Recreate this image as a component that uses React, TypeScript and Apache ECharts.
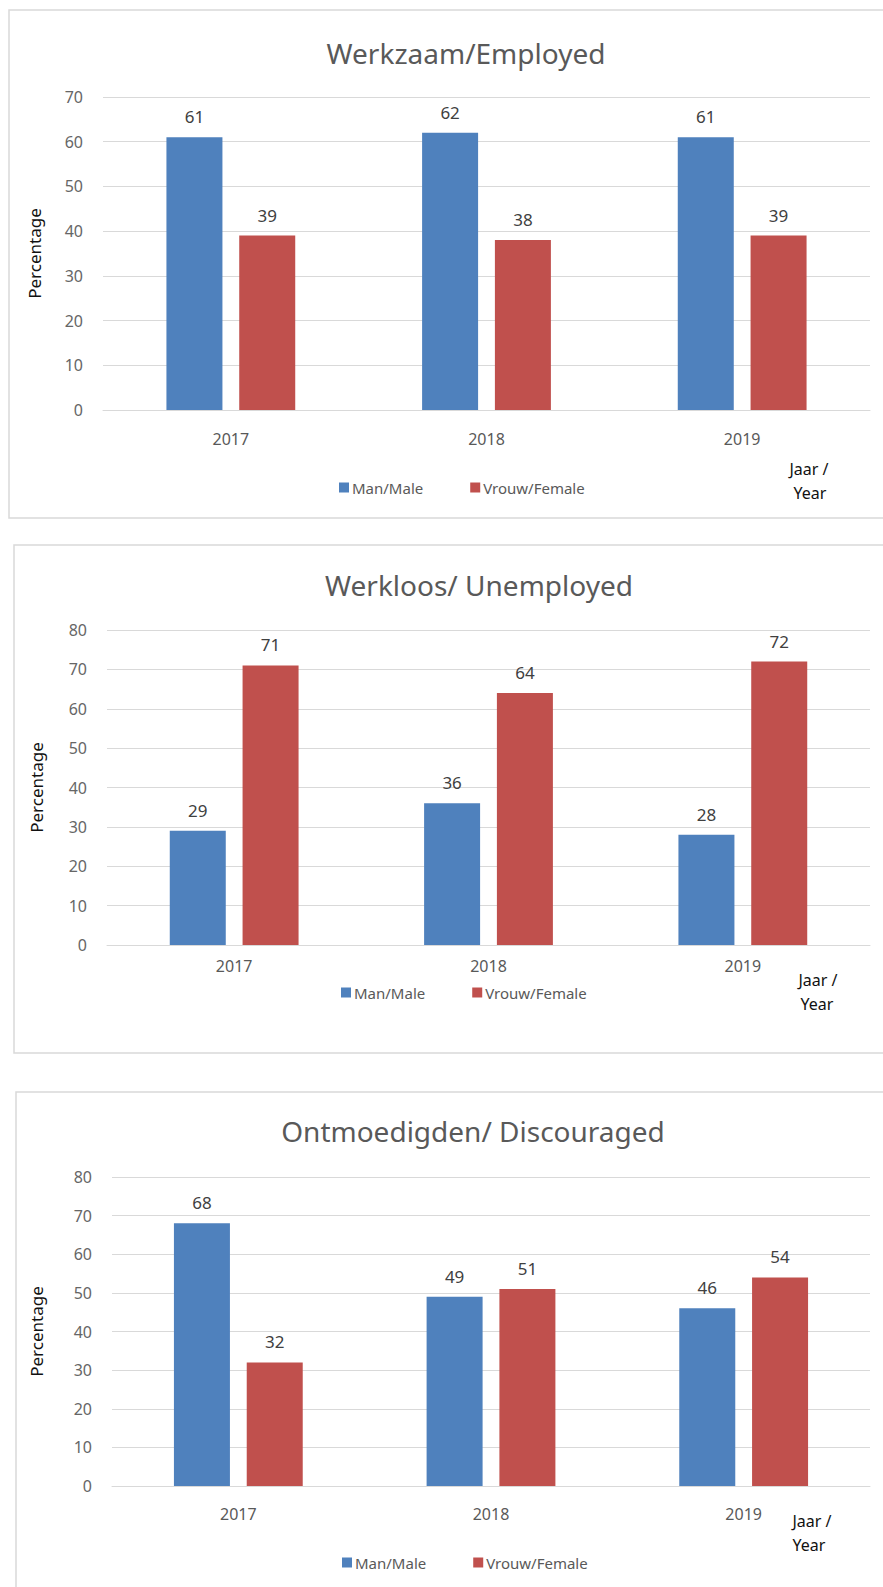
import React, { useEffect, useRef } from 'react';
import * as echarts from 'echarts';

// ---- Data ----
const years = ['2017', '2018', '2019'];
const seriesNames = ['Man/Male', 'Vrouw/Female'];
const chartTitles = ['Werkzaam/Employed', 'Werkloos/ Unemployed', 'Ontmoedigden/ Discouraged'];
const employedMale = [61, 62, 61];
const employedFemale = [39, 38, 39];
const unemployedMale = [29, 36, 28];
const unemployedFemale = [71, 64, 72];
const discouragedMale = [68, 49, 46];
const discouragedFemale = [32, 51, 54];
const yMaxes = [70, 80, 80];
const yInterval = 10;
const yAxisName = 'Percentage';
const xAxisNameLines = ['Jaar /', 'Year'];

const maleSets = [employedMale, unemployedMale, discouragedMale];
const femaleSets = [employedFemale, unemployedFemale, discouragedFemale];

// ---- Layout / style ----
const FONT = '"Noto Sans", "Open Sans", sans-serif';
const BLUE = '#4F81BD';
const RED = '#C0504D';
const GRID_COLOR = '#d9d9d9';

const layouts = [
  { panel: { x: 9, y: 10, h: 508 }, grid: { left: 103, top: 97, width: 767, height: 313 }, titleX: 466, titleY: 53, legendLeft: 334, legendY: 484, catMargin: 21, nameGap: 60, jaar: [809, 469], year: [810, 493] },
  { panel: { x: 14, y: 545, h: 508 }, grid: { left: 107, top: 630, width: 763, height: 315 }, titleX: 479, titleY: 585, legendLeft: 336, legendY: 989, catMargin: 13, nameGap: 62, jaar: [818, 980], year: [817, 1004] },
  { panel: { x: 16, y: 1092, h: 600 }, grid: { left: 112, top: 1177, width: 758, height: 309 }, titleX: 473, titleY: 1131, legendLeft: 337, legendY: 1559, catMargin: 20, nameGap: 67, jaar: [812, 1521], year: [809, 1545] },
];

export default function App() {
  const ref = useRef<HTMLDivElement>(null);

  useEffect(() => {
    if (!ref.current) return;
    const chart = echarts.init(ref.current, undefined, { renderer: 'svg' });

    const grids: any[] = [];
    const xAxes: any[] = [];
    const yAxes: any[] = [];
    const series: any[] = [];
    const legends: any[] = [];
    const graphics: any[] = [];

    layouts.forEach((L, i) => {
      grids.push({ ...L.grid, containLabel: false });
      xAxes.push({
        type: 'category',
        gridIndex: i,
        data: years,
        axisLine: { show: true, lineStyle: { color: GRID_COLOR, width: 1 } },
        axisTick: { show: false },
        axisLabel: { margin: L.catMargin, fontSize: 16, color: '#595959', fontFamily: FONT },
      });
      yAxes.push({
        type: 'value',
        gridIndex: i,
        min: 0,
        max: yMaxes[i],
        interval: yInterval,
        axisLine: { show: false },
        axisTick: { show: false },
        splitLine: { show: true, lineStyle: { color: GRID_COLOR, width: 1 } },
        axisLabel: { margin: 20, fontSize: 16, color: '#666666', fontFamily: FONT },
        name: yAxisName,
        nameLocation: 'middle',
        nameGap: L.nameGap,
        nameRotate: 90,
        nameTextStyle: { fontSize: 17, color: '#111111', fontFamily: FONT },
      });
      const label = {
        show: true,
        position: 'top',
        distance: 12,
        fontSize: 17,
        color: '#404040',
        fontFamily: FONT,
      };
      series.push({
        type: 'bar',
        name: seriesNames[0],
        xAxisIndex: i,
        yAxisIndex: i,
        data: maleSets[i],
        barWidth: 56,
        barGap: '30%',
        itemStyle: { color: BLUE },
        label,
      });
      series.push({
        type: 'bar',
        name: seriesNames[1],
        xAxisIndex: i,
        yAxisIndex: i,
        data: femaleSets[i],
        barWidth: 56,
        barGap: '30%',
        itemStyle: { color: RED },
        label,
      });
      legends.push({
        data: seriesNames,
        left: L.legendLeft,
        top: L.legendY - 9,
        icon: 'rect',
        itemWidth: 10,
        itemHeight: 10,
        itemGap: 47,
        textStyle: { fontSize: 15, color: '#595959', fontFamily: FONT, padding: [0, 0, 0, -2] },
      });
      graphics.push({
        type: 'rect',
        z: -10,
        silent: true,
        shape: { x: L.panel.x, y: L.panel.y, width: 1000, height: L.panel.h },
        style: { fill: '#ffffff', stroke: GRID_COLOR, lineWidth: 1.5 },
      });
      graphics.push({
        type: 'text',
        x: L.titleX,
        y: L.titleY,
        style: {
          text: chartTitles[i],
          fontSize: 28,
          fontFamily: FONT,
          fill: '#595959',
          textAlign: 'center',
          textVerticalAlign: 'middle',
        },
      });
      graphics.push({
        type: 'text',
        x: L.jaar[0],
        y: L.jaar[1],
        style: { text: xAxisNameLines[0], fontSize: 16, fontFamily: FONT, fill: '#111111', textAlign: 'center', textVerticalAlign: 'middle' },
      });
      graphics.push({
        type: 'text',
        x: L.year[0],
        y: L.year[1],
        style: { text: xAxisNameLines[1], fontSize: 16, fontFamily: FONT, fill: '#111111', textAlign: 'center', textVerticalAlign: 'middle' },
      });
    });

    chart.setOption({
      animation: false,
      backgroundColor: '#ffffff',
      textStyle: { fontFamily: FONT },
      grid: grids,
      xAxis: xAxes,
      yAxis: yAxes,
      series,
      legend: legends,
      graphic: { elements: graphics },
    });

    return () => chart.dispose();
  }, []);

  return (
    <div
      ref={ref}
      style={{ position: 'absolute', left: 0, top: 0, width: 883, height: 1587 }}
    />
  );
}
